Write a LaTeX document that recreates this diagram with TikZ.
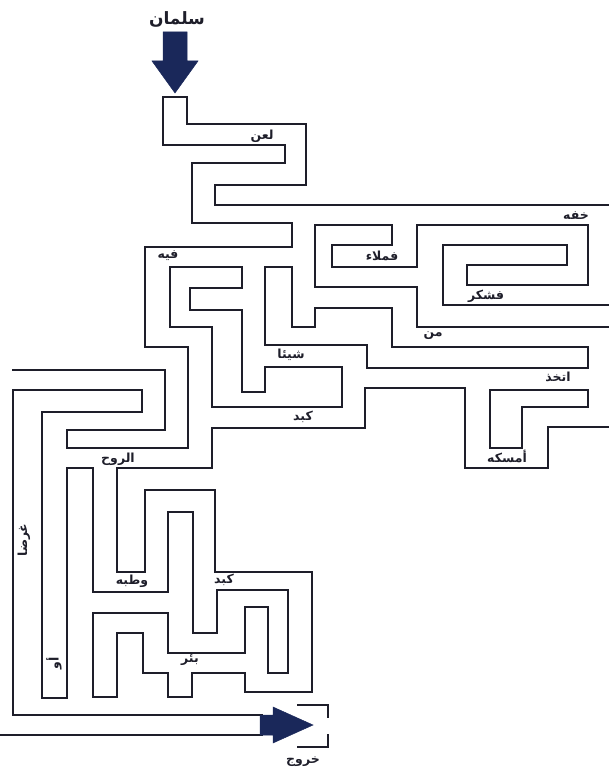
\documentclass[tikz,border=0pt]{standalone}
\usepackage{fontspec}
\usepackage{tikz}
\usetikzlibrary{positioning}
\newfontfamily\arabicfont[Script=Arabic]{DejaVu Sans}
\TeXXeTstate=1
\newcommand{\arw}[1]{{\arabicfont\bfseries\beginR #1\endR}}
\definecolor{mazeink}{RGB}{30,30,42}
\definecolor{arrowblue}{RGB}{26,40,90}
\tikzset{
  % --- maze walls ------------------------------------------------------------
  wall/.style={draw=mazeink,line width=1.8pt,line join=miter,line cap=rect},
  pointer/.style={fill=arrowblue,draw=arrowblue,line width=0.5pt,
                  line join=miter},
  % --- words along the corridors ---------------------------------------------
  word/.style={inner sep=0.5pt,text=mazeink,font=\fontsize{12.5}{14}\selectfont},
  upword/.style={word,rotate=90},
  bigword/.style={word,font=\fontsize{17}{19}\selectfont},
}
\begin{document}
\begin{tikzpicture}[x=1pt,y=-1pt]
  \path[use as bounding box] (0,0) rectangle (608,775);

  % entry pointer and name
  \node[bigword] (salman) at (177,19) {\arw{سلمان}};
  \fill[pointer] (163,32) -- (187,32) -- (187,61) -- (198,61) -- (175,93)
        -- (152,61) -- (163,61) -- cycle;

  % top stair and left side
  \draw[wall] (187,97) -- (163,97) -- (163,145) -- (285,145) -- (285,163)
        -- (192,163) -- (192,223) -- (292,223) -- (292,247) -- (145,247)
        -- (145,347) -- (188,347) -- (188,448) -- (67,448) -- (67,430)
        -- (165,430) -- (165,370) -- (13,370);
  \draw[wall] (187,97) -- (187,124) -- (306,124) -- (306,185) -- (215,185)
        -- (215,205) -- (608,205);

  % dead ends on the right (two spirals)
  \draw[wall] (608,327) -- (417,327) -- (417,287) -- (315,287) -- (315,225)
        -- (392,225) -- (392,245) -- (332,245) -- (332,267) -- (417,267)
        -- (417,225) -- (588,225) -- (588,285) -- (467,285) -- (467,265)
        -- (567,265) -- (567,245) -- (443,245) -- (443,305) -- (608,305);

  % islands
  \draw[wall] (315,308) -- (392,308) -- (392,347) -- (588,347) -- (588,368)
        -- (367,368) -- (367,345) -- (265,345) -- (265,267) -- (292,267)
        -- (292,327) -- (315,327) -- cycle;
  \draw[wall] (242,267) -- (170,267) -- (170,327) -- (212,327) -- (212,407)
        -- (342,407) -- (342,367) -- (265,367) -- (265,392) -- (242,392)
        -- (242,310) -- (190,310) -- (190,288) -- (242,288) -- cycle;
  \draw[wall] (490,390) -- (588,390) -- (588,407) -- (522,407) -- (522,448)
        -- (490,448) -- cycle;

  % long lower wall, down to the way out
  \draw[wall] (608,427) -- (548,427) -- (548,468) -- (465,468) -- (465,388)
        -- (365,388) -- (365,428) -- (212,428) -- (212,468) -- (117,468)
        -- (117,572) -- (145,572) -- (145,490) -- (215,490) -- (215,572)
        -- (312,572) -- (312,692) -- (245,692) -- (245,673) -- (192,673)
        -- (192,697) -- (168,697) -- (168,673) -- (143,673) -- (143,633)
        -- (117,633) -- (117,697) -- (93,697) -- (93,613) -- (168,613)
        -- (168,653) -- (245,653) -- (245,607) -- (268,607) -- (268,673)
        -- (288,673) -- (288,590) -- (217,590) -- (217,633) -- (193,633)
        -- (193,512) -- (168,512) -- (168,592) -- (93,592) -- (93,468)
        -- (67,468) -- (67,698) -- (42,698) -- (42,412) -- (142,412)
        -- (142,390) -- (13,390) -- (13,715) -- (262,715);
  \draw[wall] (0,735) -- (262,735);

  % exit
  \fill[pointer] (260,715) -- (273,715) -- (273,707) -- (313,725)
        -- (273,743) -- (273,735) -- (260,735) -- cycle;
  \draw[wall] (298,705) -- (328,705) -- (328,717);
  \draw[wall] (328,735) -- (328,747) -- (298,747);
  \coordinate (gate) at (303,747);
  \node[word,below=9pt of gate] (khuruj) {\arw{خروج}};

  % words
  \node[word] (laan)   at (262,136) {\arw{لعن}};
  \node[word] (khuffh) at (576,216) {\arw{خفه}};
  \node[word] (fmla)   at (382,256) {\arw{فملاء}};
  \node[word] (fih)    at (168,256) {\arw{فيه}};
  \node[word] (fshkr)  at (486,296) {\arw{فشكر}};
  \node[word] (min)    at (433,336) {\arw{من}};
  \node[word] (shay)   at (291,355) {\arw{شيئا}};
  \node[word] (ittkh)  at (558,377) {\arw{اتخذ}};
  \node[word] (kbd)    at (303,417) {\arw{كبد}};
  \node[word] (amsk)   at (507,456) {\arw{أمسكه}};
  \node[word] (ruh)    at (118,459) {\arw{الروح}};
  \node[upword] (ghrd) at (24,540) {\arw{غرضا}};
  \node[word] (rtbh)   at (132,581) {\arw{وطبه}};
  \node[word] (kbdb)   at (224,580) {\arw{كبد}};
  \node[word] (bir)    at (190,660) {\arw{بئر}};
  \node[upword] (aw)   at (54,663) {\arw{أو}};
\end{tikzpicture}
\end{document}
